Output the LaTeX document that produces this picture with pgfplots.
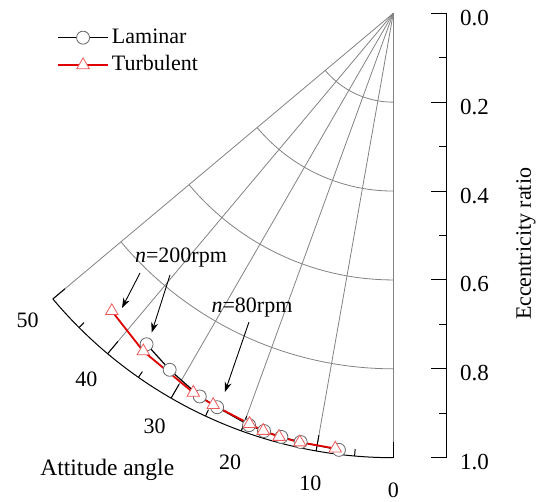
\documentclass[border=0pt]{standalone}
\usepackage{fontspec}
\setmainfont{Liberation Serif}
\usepackage{pgfplots}
\usepackage{pgfplotstable}
\pgfplotsset{compat=1.18}
\usetikzlibrary{arrows.meta}

% attitude angle (deg), eccentricity ratio
\pgfplotstableread{
phi  e
36.7 0.929
32.1 0.947
26.8 0.966
24.1 0.971
19.3 0.982
17.2 0.984
14.8 0.986
12.2 0.987
7.1  0.990
}\laminar

\pgfplotstableread{
phi  e
43.4 0.922
36.5 0.946
27.8 0.965
24.7 0.970
19.3 0.979
17.3 0.984
15.1 0.987
12.3 0.988
7.6  0.988
}\turbulent

\definecolor{gridgray}{RGB}{130,130,130}
\definecolor{tri}{RGB}{240,90,90}
\definecolor{lamred}{RGB}{225,0,0}

\begin{document}
\begin{tikzpicture}[font=\fontsize{22}{26}\selectfont]
  \def\R{444.4pt}
  % polar grid, origin of the data sits at (0,0)
  \foreach \r in {0.2,0.4,0.6,0.8}
    \draw[gridgray, line width=0.8pt] (-90:{\r*\R}) arc[start angle=-90, end angle=-140, radius={\r*\R}];
  \foreach \a in {0,10,...,50}
    \draw[gridgray, line width=0.8pt] (0,0) -- ({-90-\a}:\R);
  \draw[black, line width=1pt] (-90:\R) arc[start angle=-90, end angle=-140, radius=\R];
  \foreach \a in {0,10,...,50} {
    \draw[black, line width=1pt] ({-90-\a}:\R) -- ({-90-\a}:{\R-16pt});
    \node at ({-90-\a}:{1.074*\R}) {\a};
  }
  \foreach \a in {5,15,...,45}
    \draw[black, line width=1pt] ({-90-\a}:\R) -- ({-90-\a}:{\R-7pt});
  \node[font=\fontsize{23.5}{27}\selectfont] at (-286pt,-456.7pt) {Attitude angle};

  \begin{axis}[
    at={(0,0)}, anchor=origin,
    x=444.4pt, y=444.4pt,
    xmin=-0.885, xmax=0.1208,
    ymin=0, ymax=1, y dir=reverse,
    axis x line=none, axis y line=right,
    axis line style={-, line width=1pt},
    ytick={0,0.2,0.4,0.6,0.8,1},
    minor ytick={0.1,0.3,0.5,0.7,0.9},
    tick align=inside,
    major tick length=16pt, minor tick length=8pt,
    every tick/.style={black, line width=1pt},
    minor tick style={black, line width=1pt},
    /pgf/number format/assume math mode=true,
    yticklabel style={/pgf/number format/fixed, /pgf/number format/fixed zerofill,
      /pgf/number format/precision=1, xshift=9.5pt, yshift=-4.5pt,
      font=\fontsize{23}{27}\selectfont},
    clip=false,
    legend image code/.code={
      \draw[mark repeat=2, mark phase=2, #1] plot coordinates {(0pt,0pt) (25pt,0pt) (50pt,0pt)};},
    legend style={at={(axis cs:-0.7568,0.024)}, anchor=north west, draw=none, fill=none,
      font=\fontsize{22}{26}\selectfont, inner sep=0pt,
      nodes={inner sep=3pt, text height=16pt, text depth=5pt}, row sep=0.4pt},
    legend cell align=left,
  ]
    \addplot[black, line width=1.2pt, mark=*, mark size=6.5pt,
      mark options={fill=white, draw=black!60, line width=0.8pt}]
      table[x expr={-\thisrow{e}*sin(\thisrow{phi})}, y expr={\thisrow{e}*cos(\thisrow{phi})}] {\laminar};
    \addlegendentry{Laminar}
    \addplot[lamred, line width=1.8pt, mark=triangle*, mark size=7.2pt,
      mark options={fill=white, draw=tri, line width=0.8pt}]
      table[x expr={-\thisrow{e}*sin(\thisrow{phi})}, y expr={\thisrow{e}*cos(\thisrow{phi})}] {\turbulent};
    \addlegendentry{Turbulent}

    \node at (axis cs:-0.4777,0.5506) {\textit{n}=200rpm};
    \node at (axis cs:-0.318,0.663) {\textit{n}=80rpm};
    \draw[-{Stealth[length=10pt,width=7pt]}, line width=0.9pt] (axis cs:-0.5700,0.5844) -- (axis cs:-0.6105,0.6631);
    \draw[-{Stealth[length=10pt,width=7pt]}, line width=0.9pt] (axis cs:-0.5025,0.5889) -- (axis cs:-0.5437,0.7183);
    \draw[-{Stealth[length=10pt,width=7pt]}, line width=0.9pt] (axis cs:-0.3247,0.6946) -- (axis cs:-0.3789,0.8522);

    \node[rotate=90] at (axis cs:0.2985,0.519) {Eccentricity ratio};
  \end{axis}
  \pgfresetboundingbox
  \path (-393.3pt,13.3pt) rectangle (147.7pt,-488.7pt);
\end{tikzpicture}
\end{document}
